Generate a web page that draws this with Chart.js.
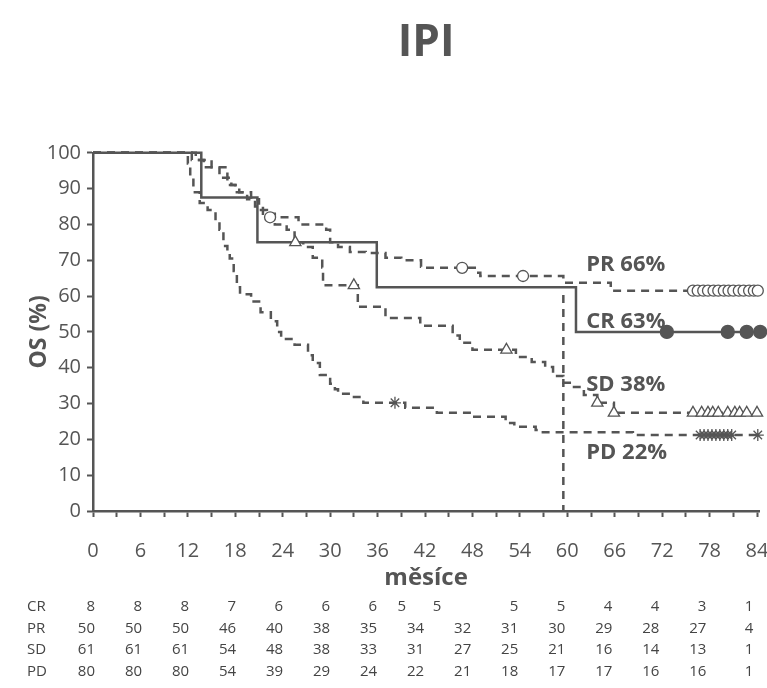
<!DOCTYPE html>
<html>
<head>
<meta charset="utf-8">
<title>IPI</title>
<script src="https://cdn.jsdelivr.net/npm/chart.js@4.4.1/dist/chart.umd.min.js"></script>
<style>
  html, body { margin: 0; padding: 0; background: #fff; }
</style>
</head>
<body>
<canvas id="osChart" width="767" height="688"></canvas>
<script>
// Kaplan-Meier steps: time (months) where survival changes, survival (%)
var crTime = [0, 13.7, 20.8, 35.9, 61.1, 84.4];
var crSurv = [100, 87.5, 75, 62.5, 50, 50];

var prTime = [0, 12.5, 14, 17, 17.5, 18.5, 20, 21, 22, 26, 29.5, 30, 31, 32.5, 34.5, 37, 39, 41.5, 42, 48.5, 49, 59.5, 65.5, 84.1];
var prSurv = [100, 98, 96, 93, 91, 89, 87, 84, 82, 80, 78.5, 75, 73.7, 72.3, 72, 70.7, 70, 68.2, 67.9, 66.5, 65.6, 63.7, 61.5, 61.5];

var sdTime = [0, 13, 15, 16, 17, 18, 19.5, 20.5, 21.5, 23, 24.5, 25.5, 26.6, 27.8, 29, 29.1, 33.5, 37, 41.4, 45.5, 46.4, 48, 53.5, 55.5, 57.2, 58.2, 59.5, 60.6, 62.1, 63.8, 65.9, 84.5];
var sdSurv = [100, 98, 96, 93, 91, 89, 87, 85, 83, 80, 78.5, 75, 73.7, 70.7, 68, 63, 57, 53.9, 51.7, 49, 47, 45, 43, 41.6, 40.2, 37.7, 35.8, 34.6, 32.4, 30.2, 27.4, 27.4];

var pdTime = [0, 12, 12.3, 12.7, 13.5, 14.5, 15.5, 16, 16.5, 17, 17.3, 17.8, 18.2, 18.6, 20, 21.2, 22.5, 23.3, 23.8, 25.5, 27.2, 27.8, 28.7, 30, 30.6, 31, 32.8, 34.2, 39.5, 43.5, 48, 52.2, 53.3, 56, 56.7, 68.3, 84.1];
var pdSurv = [100, 97, 93, 89, 86, 84, 81, 78.5, 74, 72, 70.5, 67, 62.5, 60.5, 58.5, 55.5, 53, 50, 48, 46.4, 43.5, 41.3, 38, 35.5, 34, 32.7, 31.8, 30.2, 28.8, 27.4, 26.3, 24.6, 23.5, 22.6, 22, 21.2, 21.2];

// censored observations (months)
var crCensor = [72.6, 80.3, 82.7, 84.4];
var prCensor = [22.4, 46.7, 54.4, 75.9, 76.5, 77.2, 77.8, 78.5, 79.1, 79.8, 80.4, 81.0, 81.7, 82.3, 83.0, 83.6, 84.1];
var sdCensor = [25.6, 33, 52.3, 63.8, 65.9, 75.9, 77.0, 77.8, 78.4, 79.1, 80.3, 81.2, 81.8, 82.7, 84.0];
var pdCensor = [38.2, 76.8, 77.3, 77.8, 78.3, 78.8, 79.3, 79.8, 80.3, 80.8, 84.1];

// median follow-up marker
var markTime = [59.5, 59.5];
var markSurv = [60.3, 0];

var seriesLabels = ['PR 66%', 'CR 63%', 'SD 38%', 'PD 22%'];

// numbers at risk
var riskNames = ['CR', 'PR', 'SD', 'PD'];
var riskTimes = [0, 6, 12, 18, 24, 30, 36, 42, 48, 54, 60, 66, 72, 78, 84];
var riskCR = [8, 8, 8, 7, 6, 6, 6, 5, 5, 5, 5, 4, 4, 3, 1];
var riskPR = [50, 50, 50, 46, 40, 38, 35, 34, 32, 31, 30, 29, 28, 27, 4];
var riskSD = [61, 61, 61, 54, 48, 38, 33, 31, 27, 25, 21, 16, 14, 13, 1];
var riskPD = [80, 80, 80, 54, 39, 29, 24, 22, 21, 18, 17, 17, 16, 16, 1];

var INK = '#555555';
var FONT = '"Open Sans"';

function toPoints(times, vals) {
    var pts = [];
    for (var i = 0; i < times.length; i++) pts.push({x: times[i], y: vals[i]});
    return pts;
}

function valueAt(times, vals, t) {
    var v = vals[0];
    for (var i = 0; i < times.length; i++) {
        if (times[i] <= t) v = vals[i];
    }
    return v;
}

function censorPoints(cens, times, vals) {
    return cens.map(function(t) { return {x: t, y: valueAt(times, vals, t)}; });
}

function curve(pts, dashed) {
    return {
        type: 'line',
        data: pts,
        stepped: true,
        borderColor: INK,
        borderWidth: 2.5,
        borderDash: dashed ? [8, 6] : [],
        pointRadius: 0,
        fill: false,
        clip: false,
        order: 2
    };
}

function marks(pts, style, radius, fillColor) {
    return {
        type: 'scatter',
        data: pts,
        pointStyle: style,
        pointRadius: radius,
        pointBorderColor: INK,
        pointBackgroundColor: fillColor,
        pointBorderWidth: 1.3,
        showLine: false,
        clip: false,
        order: 1
    };
}

// text next to the curves + number-at-risk table
var annotatePlugin = {
    id: 'annotate',
    afterDraw: function(chart) {
        var ctx = chart.ctx;
        var xs = chart.scales.x, ys = chart.scales.y;
        var labelLevels = [68.7, 52.8, 35.2, 16.2];
        ctx.save();
        ctx.fillStyle = INK;
        ctx.font = 'bold 22px ' + FONT;
        ctx.textAlign = 'left';
        ctx.textBaseline = 'middle';
        for (var i = 0; i < seriesLabels.length; i++) {
            ctx.fillText(seriesLabels[i], xs.getPixelForValue(62.4), ys.getPixelForValue(labelLevels[i]));
        }

        var rows = [riskCR, riskPR, riskSD, riskPD];
        var crShift = {7: -18, 8: -30};
        ctx.font = '15px ' + FONT;
        ctx.fillStyle = '#444';
        for (var r = 0; r < rows.length; r++) {
            var y = 607 + r * 21.5;
            ctx.textAlign = 'left';
            ctx.fillText(riskNames[r], 27, y);
            ctx.textAlign = 'right';
            for (var c = 0; c < riskTimes.length; c++) {
                // table columns drift slightly left of the ticks toward the right end
                var x = xs.getPixelForValue(riskTimes[c]) + 2 - c * 0.4;
                if (r === 0 && crShift[c]) x += crShift[c];
                ctx.fillText(String(rows[r][c]), x, y);
            }
        }
        ctx.restore();
    }
};

var chart = new Chart(document.getElementById('osChart').getContext('2d'), {
    data: {
        datasets: [
            marks(censorPoints(crCensor, crTime, crSurv), 'circle', 6.5, INK),
            marks(censorPoints(prCensor, prTime, prSurv), 'circle', 5.5, '#fff'),
            marks(censorPoints(sdCensor, sdTime, sdSurv), 'triangle', 6.5, '#fff'),
            marks(censorPoints(pdCensor, pdTime, pdSurv), 'star', 6, INK),
            curve(toPoints(crTime, crSurv), false),
            curve(toPoints(prTime, prSurv), true),
            curve(toPoints(sdTime, sdSurv), true),
            curve(toPoints(pdTime, pdSurv), true),
            curve(toPoints(markTime, markSurv), true)
        ]
    },
    options: {
        responsive: false,
        animation: false,
        layout: { padding: { left: 0, right: 2, top: 0, bottom: 95 } },
        plugins: {
            legend: { display: false },
            tooltip: { enabled: false },
            title: {
                display: true,
                text: 'IPI',
                fullSize: false,
                color: INK,
                font: { family: FONT, size: 44, weight: 'bold' },
                padding: { top: 17, bottom: 83 }
            }
        },
        scales: {
            x: {
                type: 'linear',
                min: 0,
                max: 85,
                afterBuildTicks: function(scale) {
                    var t = [];
                    for (var v = 0; v <= 84; v += 3) t.push({value: v});
                    scale.ticks = t;
                },
                afterFit: function(scale) {
                    scale.height = 82;
                    scale.paddingLeft = 0;
                    scale.paddingRight = 0;
                },
                ticks: {
                    autoSkip: false,
                    maxRotation: 0,
                    padding: 22,
                    color: INK,
                    font: { family: FONT, size: 20 },
                    callback: function(v) { return v % 6 === 0 ? v : ''; }
                },
                grid: {
                    drawOnChartArea: false,
                    drawTicks: true,
                    tickLength: 6,
                    tickColor: INK,
                    tickWidth: 2
                },
                border: { display: true, color: INK, width: 2.5 },
                title: {
                    display: true,
                    text: 'měsíce',
                    color: INK,
                    font: { family: FONT, size: 24, weight: 'bold' },
                    padding: { top: 2, bottom: 0 }
                }
            },
            y: {
                type: 'linear',
                min: 0,
                max: 100,
                afterFit: function(scale) {
                    scale.width = 93;
                    scale.paddingTop = 0;
                    scale.paddingBottom = 0;
                },
                ticks: {
                    stepSize: 10,
                    padding: 6,
                    color: INK,
                    font: { family: FONT, size: 20 }
                },
                grid: {
                    drawOnChartArea: false,
                    drawTicks: true,
                    tickLength: 6,
                    tickColor: INK,
                    tickWidth: 2
                },
                border: { display: true, color: INK, width: 2.5 },
                title: {
                    display: true,
                    text: 'OS (%)',
                    color: INK,
                    font: { family: FONT, size: 23, weight: 'bold' },
                    padding: { top: 26, bottom: 0 }
                }
            }
        }
    },
    plugins: [annotatePlugin]
});

// the layout leaves a few px on the right; stretch the axis so that 84 months sits at x=757
for (var k = 0; k < 4; k++) {
    var xs = chart.scales.x;
    var want = 84 * (xs.right - xs.left) / (757 - xs.left);
    if (Math.abs(want - chart.options.scales.x.max) < 0.01) break;
    chart.options.scales.x.max = want;
    chart.update('none');
}
</script>
</body>
</html>
